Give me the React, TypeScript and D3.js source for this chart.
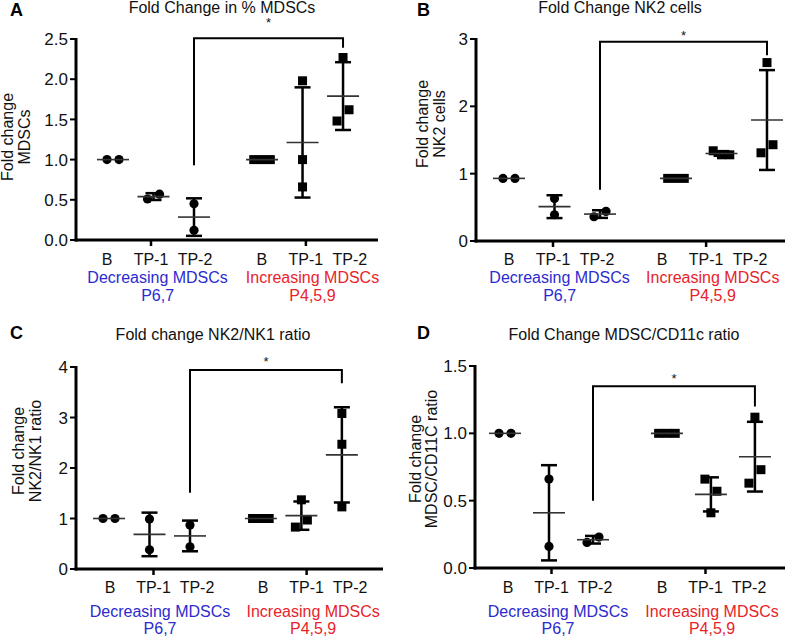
import React from "react";
import * as d3 from "d3";

const CATEGORIES = ["B", "TP-1", "TP-2", "B", "TP-1", "TP-2"];
const GROUP_LABELS = ["Decreasing MDSCs", "Increasing MDSCs"];
const GROUP_SUBLABELS = ["P6,7", "P4,5,9"];
const GROUP_COLORS = ["#2b2bcf", "#e8232a"];

// Panel A: Fold Change in % MDSCs
const A_B_DEC = [1.0, 1.0];
const A_TP1_DEC = [0.51, 0.57];
const A_TP2_DEC = [0.45, 0.12];
const A_B_INC = [1.0, 1.0, 1.0];
const A_TP1_INC = [1.98, 1.0, 0.66];
const A_TP2_INC = [2.27, 1.48, 1.62];

// Panel B: Fold Change NK2 cells
const B_B_DEC = [0.93, 0.93];
const B_TP1_DEC = [0.63, 0.39];
const B_TP2_DEC = [0.36, 0.44];
const B_B_INC = [0.93, 0.93, 0.93];
const B_TP1_INC = [1.34, 1.28, 1.28];
const B_TP2_INC = [2.65, 1.31, 1.43];

// Panel C: Fold change NK2/NK1 ratio
const C_B_DEC = [1.0, 1.0];
const C_TP1_DEC = [0.99, 0.38];
const C_TP2_DEC = [0.87, 0.44];
const C_B_INC = [1.0, 1.0, 1.0];
const C_TP1_INC = [1.37, 0.83, 0.97];
const C_TP2_INC = [3.08, 2.47, 1.23];

// Panel D: Fold Change MDSC/CD11c ratio
const D_B_DEC = [1.0, 1.0];
const D_TP1_DEC = [0.66, 0.16];
const D_TP2_DEC = [0.19, 0.23];
const D_B_INC = [1.0, 1.0, 1.0];
const D_TP1_INC = [0.66, 0.57, 0.41];
const D_TP2_INC = [1.12, 0.63, 0.73];

const FONT = "'Liberation Sans', Arial, Helvetica, sans-serif";

type Panel = {
  letter: string;
  letterPos: [number, number];
  title: string;
  titlePos: [number, number];
  yLabel: string[];
  yLabelX: number[];
  yLabelY: number;
  series: number[][];
  domain: [number, number];
  tickStep: number;
  fmt: string;
  ax: { x0: number; x1: number; yTop: number; yBot: number };
  dataX: { x0: number; step: number; gap: number };
  labX: { x0: number; step: number; gap: number };
  catDy: number;
  grpDy: number;
  subDy: number;
  bracket: { top: number; left: number; right: number; star: number };
};

const PANELS: Panel[] = [
  {
    letter: "A", letterPos: [10, 16],
    title: "Fold Change in % MDSCs", titlePos: [222, 13],
    yLabel: ["Fold change", "MDSCs"], yLabelX: [13, 30], yLabelY: 137,
    series: [A_B_DEC, A_TP1_DEC, A_TP2_DEC, A_B_INC, A_TP1_INC, A_TP2_INC],
    domain: [0, 2.5], tickStep: 0.5, fmt: ".1f",
    ax: { x0: 76, x1: 378, yTop: 39, yBot: 240 },
    dataX: { x0: 113, step: 40.5, gap: 3.68 },
    labX: { x0: 107, step: 44, gap: 3.52 },
    catDy: 25, grpDy: 43, subDy: 61,
    bracket: { top: 2.51, left: 0.93, right: 2.39, star: 2.74 },
  },
  {
    letter: "B", letterPos: [417, 16],
    title: "Fold Change NK2 cells", titlePos: [620, 13],
    yLabel: ["Fold change", "NK2 cells"], yLabelX: [428, 445], yLabelY: 124,
    series: [B_B_DEC, B_TP1_DEC, B_TP2_DEC, B_B_INC, B_TP1_INC, B_TP2_INC],
    domain: [0, 3], tickStep: 1, fmt: "d",
    ax: { x0: 476, x1: 785, yTop: 39, yBot: 241 },
    dataX: { x0: 509, step: 45.5, gap: 3.67 },
    labX: { x0: 509, step: 44, gap: 3.48 },
    catDy: 24, grpDy: 42, subDy: 60,
    bracket: { top: 2.96, left: 0.76, right: 2.76, star: 3.1 },
  },
  {
    letter: "C", letterPos: [10, 339],
    title: "Fold change NK2/NK1 ratio", titlePos: [213, 340],
    yLabel: ["Fold change", "NK2/NK1 ratio"], yLabelX: [24, 41], yLabelY: 451,
    series: [C_B_DEC, C_TP1_DEC, C_TP2_DEC, C_B_INC, C_TP1_INC, C_TP2_INC],
    domain: [0, 4], tickStep: 1, fmt: "d",
    ax: { x0: 76, x1: 383, yTop: 367, yBot: 569 },
    dataX: { x0: 109, step: 40.5, gap: 3.75 },
    labX: { x0: 110, step: 43.5, gap: 3.52 },
    catDy: 24, grpDy: 48, subDy: 65,
    bracket: { top: 3.94, left: 1.51, right: 3.68, star: 4.17 },
  },
  {
    letter: "D", letterPos: [417, 339],
    title: "Fold Change MDSC/CD11c ratio", titlePos: [624, 340],
    yLabel: ["Fold change", "MDSC/CD11C ratio"], yLabelX: [421, 437], yLabelY: 459,
    series: [D_B_DEC, D_TP1_DEC, D_TP2_DEC, D_B_INC, D_TP1_INC, D_TP2_INC],
    domain: [0, 1.5], tickStep: 0.5, fmt: ".1f",
    ax: { x0: 475, x1: 785, yTop: 366, yBot: 568 },
    dataX: { x0: 505, step: 44, gap: 3.68 },
    labX: { x0: 508, step: 43.5, gap: 3.54 },
    catDy: 25, grpDy: 49, subDy: 66,
    bracket: { top: 1.35, left: 0.5, right: 1.2, star: 1.43 },
  },
];

function slotOf(i: number, gap: number) {
  return i < 3 ? i : gap + (i - 3);
}

function jitter(values: number[], y: d3.ScaleLinear<number, number>) {
  const idx = values.map((_, i) => i).sort((a, b) => values[a] - values[b]);
  const clusters: number[][] = [];
  idx.forEach((i, k) => {
    if (k > 0 && Math.abs(y(values[i]) - y(values[idx[k - 1]])) < 14.5) {
      clusters[clusters.length - 1].push(i);
    } else clusters.push([i]);
  });
  const off = values.map(() => 0);
  clusters.forEach((c) => {
    const ord = [...c].sort((a, b) => a - b);
    const sp = ord.length === 2 ? 12 : 8.3;
    ord.forEach((i, k) => {
      off[i] = (k - (ord.length - 1) / 2) * sp;
    });
  });
  return off;
}

function PanelView({ p }: { p: Panel }) {
  const y = d3.scaleLinear().domain(p.domain).range([p.ax.yBot, p.ax.yTop]);
  const xd = d3.scaleLinear().domain([0, 1]).range([p.dataX.x0, p.dataX.x0 + p.dataX.step]);
  const xl = d3.scaleLinear().domain([0, 1]).range([p.labX.x0, p.labX.x0 + p.labX.step]);
  const ticks = d3.range(p.domain[0], p.domain[1] + 1e-9, p.tickStep);
  const fmt = d3.format(p.fmt);
  const bx1 = xd(slotOf(2, p.dataX.gap));
  const bx2 = xd(slotOf(5, p.dataX.gap));
  return (
    <g fontFamily={FONT}>
      <text x={p.letterPos[0]} y={p.letterPos[1]} fontSize={18} fontWeight="bold" fill="#000">{p.letter}</text>
      <text x={p.titlePos[0]} y={p.titlePos[1]} fontSize={16} textAnchor="middle" fill="#111">{p.title}</text>
      {p.yLabel.map((t, i) => (
        <text key={i} transform={`translate(${p.yLabelX[i]},${p.yLabelY}) rotate(-90)`} fontSize={16} textAnchor="middle" fill="#111">{t}</text>
      ))}
      {/* axes */}
      <line x1={p.ax.x0} x2={p.ax.x0} y1={p.ax.yTop - 1} y2={p.ax.yBot + 1.5} stroke="#000" strokeWidth={3} />
      <line x1={p.ax.x0 - 1.5} x2={p.ax.x1} y1={p.ax.yBot} y2={p.ax.yBot} stroke="#000" strokeWidth={3} />
      {ticks.map((t) => (
        <g key={t}>
          <line x1={p.ax.x0 - 6} x2={p.ax.x0} y1={y(t)} y2={y(t)} stroke="#000" strokeWidth={2} />
          <text x={p.ax.x0 - 8} y={y(t)} dy="0.36em" fontSize={17} textAnchor="end" fill="#111">{fmt(t)}</text>
        </g>
      ))}
      {[1, 4].map((s) => {
        const xx = xl(slotOf(s, p.labX.gap));
        return <line key={s} x1={xx} x2={xx} y1={p.ax.yBot} y2={p.ax.yBot + 6} stroke="#000" strokeWidth={2.5} />;
      })}
      {CATEGORIES.map((c, i) => (
        <text key={i} x={xl(slotOf(i, p.labX.gap))} y={p.ax.yBot + p.catDy} fontSize={16} textAnchor="middle" fill="#111">{c}</text>
      ))}
      {GROUP_LABELS.map((g, gi) => {
        const cx = xl(slotOf(gi * 3, p.labX.gap) + 1.15);
        return (
          <g key={gi} fill={GROUP_COLORS[gi]}>
            <text x={cx} y={p.ax.yBot + p.grpDy} fontSize={16} textAnchor="middle">{g}</text>
            <text x={cx} y={p.ax.yBot + p.subDy} fontSize={16} textAnchor="middle">{GROUP_SUBLABELS[gi]}</text>
          </g>
        );
      })}
      {/* data */}
      {p.series.map((vals, i) => {
        const cx = xd(slotOf(i, p.dataX.gap));
        const m = d3.mean(vals) as number;
        const sd = d3.deviation(vals) || 0;
        const offs = jitter(vals, y);
        const isSquare = i >= 3;
        return (
          <g key={i}>
            {vals.map((v, k) =>
              isSquare ? (
                <rect key={k} x={cx + offs[k] - 4.5} y={y(v) - 4.5} width={9} height={9} fill="#000" />
              ) : (
                <circle key={k} cx={cx + offs[k]} cy={y(v)} r={4.6} fill="#000" />
              )
            )}
            {sd > 0.001 && (
              <g stroke="#000" strokeWidth={2.5}>
                <line x1={cx} x2={cx} y1={y(m + sd)} y2={y(m - sd)} />
                <line x1={cx - 8} x2={cx + 8} y1={y(m + sd)} y2={y(m + sd)} />
                <line x1={cx - 8} x2={cx + 8} y1={y(m - sd)} y2={y(m - sd)} />
              </g>
            )}
            <line x1={cx - 16} x2={cx + 16} y1={y(m)} y2={y(m)} stroke="#333" strokeWidth={1.6} />
          </g>
        );
      })}
      {/* significance bracket */}
      <path
        d={`M${bx1},${y(p.bracket.left)}V${y(p.bracket.top)}H${bx2}V${y(p.bracket.right)}`}
        fill="none" stroke="#000" strokeWidth={2}
      />
      <text x={(bx1 + bx2) / 2} y={y(p.bracket.star) + 7.5} fontSize={13} textAnchor="middle" fill="#111">*</text>
    </g>
  );
}

export default function App() {
  return (
    <svg width={785} height={639} style={{ position: "absolute", left: 0, top: 0, background: "#fff" }}>
      <rect width={785} height={639} fill="#fff" />
      {PANELS.map((p) => (
        <PanelView key={p.letter} p={p} />
      ))}
    </svg>
  );
}
